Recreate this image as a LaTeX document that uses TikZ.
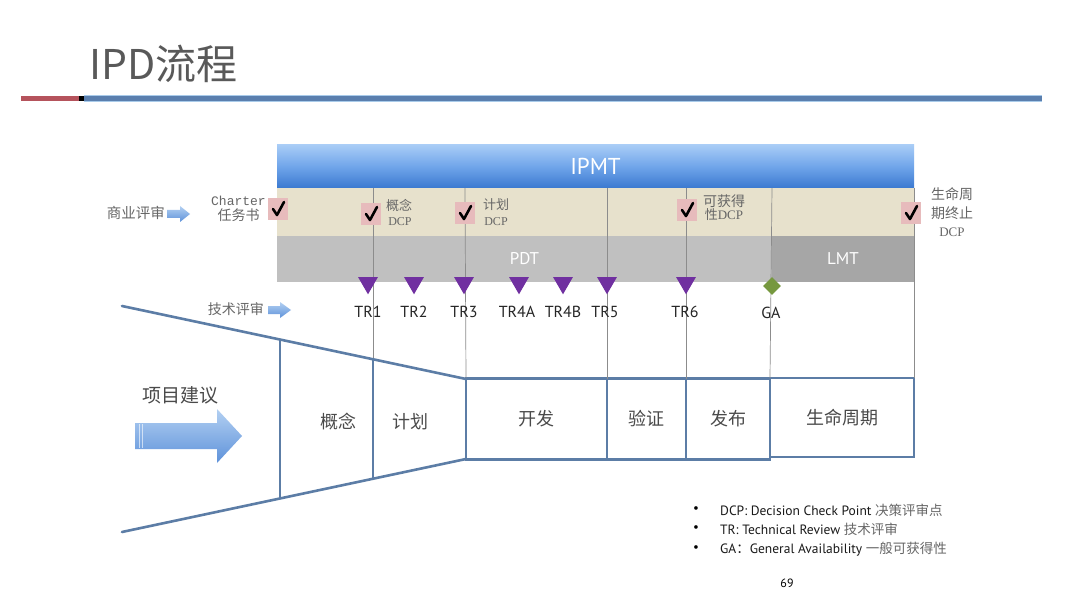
\documentclass[tikz,border=0pt]{standalone}
\usepackage{fontspec}
\setmainfont{Noto Sans CJK SC}
\newfontfamily\cjk{Noto Sans CJK SC}
\newfontfamily\latf{PT Sans}
\newfontfamily\serf{Liberation Serif}
\newfontfamily\monf{Liberation Mono}
\usetikzlibrary{shapes.geometric}
\definecolor{titlegray}{HTML}{595959}
\definecolor{txtgray}{HTML}{4A4A4A}
\definecolor{lblgray}{HTML}{666666}
\definecolor{barred}{HTML}{B5535C}
\definecolor{barblue}{HTML}{5A7FAE}
\definecolor{barlight}{HTML}{A9CBEA}
\definecolor{ipmttop}{HTML}{A8CCF6}
\definecolor{ipmtmid}{HTML}{70A5EA}
\definecolor{ipmtbot}{HTML}{3B79D0}
\definecolor{beige}{HTML}{E7E1CC}
\definecolor{pdtgray}{HTML}{C0C0C0}
\definecolor{lmtgray}{HTML}{A6A6A6}
\definecolor{vline}{HTML}{8C8C8C}
\definecolor{pinkbox}{HTML}{E7BBBC}
\definecolor{trpurple}{HTML}{7030A0}
\definecolor{gagreen}{HTML}{76983F}
\definecolor{funnelblue}{HTML}{5C7DA6}
\definecolor{arrowlight}{HTML}{B3D0F2}
\definecolor{arrowdark}{HTML}{5E92DA}
\tikzset{
  bandbox/.style={inner sep=0pt, outer sep=0pt, draw=none},
  bandtext/.style={text=white, font=\latf\fontsize{17}{19}\selectfont},
  guide/.style={draw=vline, line width=0.7pt},
  funnel/.style={draw=funnelblue, line width=2.6pt, line cap=round, line join=round},
  stagebox/.style={draw=funnelblue, line width=2.6pt, inner sep=0pt, outer sep=0pt,
     font=\cjk\fontsize{18}{20}\selectfont, text=txtgray},
  stagetext/.style={font=\cjk\fontsize{18}{20}\selectfont, text=txtgray},
  smalllbl/.style={font=\cjk\fontsize{13}{15}\selectfont, text=lblgray, inner sep=0pt},
  dcplbl/.style={font=\serf\fontsize{12}{14}\selectfont, text=lblgray, inner sep=0pt},
  trmark/.style={regular polygon, regular polygon sides=3, shape border rotate=180,
     fill=trpurple, inner sep=0pt, minimum size=23pt},
  trlbl/.style={font=\latf\fontsize{16}{18}\selectfont, text=black!85, inner sep=0pt},
  bulletlbl/.style={font=\latf\fontsize{13.5}{16}\selectfont, text=black!90, inner sep=0pt, anchor=west},
  chk/.pic={
    \fill[pinkbox] (-10,-11) rectangle (10,11);
    \draw[line width=2.6pt, line join=round, line cap=round] (-5,0) -- (-1,6) -- (6,-7);
  }
}
\begin{document}
\begin{tikzpicture}[x=1pt,y=-1pt]
\useasboundingbox[fill=white] (0,0) rectangle (1080,607);

% title and header bar
\node[anchor=west, inner sep=0pt, font=\cjk\fontsize{41}{46}\selectfont, text=titlegray] (title) at (89,64) {IPD流程};
\fill[barred] (21,96.5) rectangle (79,101.5);
\fill[black] (79,96.5) rectangle (84,101.5);
\fill[barlight] (84,95.5) rectangle (1042,102.5);
\fill[barblue] (84,96.5) rectangle (1042,101.5);

% bands
\node[bandbox, minimum width=637pt, minimum height=43pt, top color=ipmttop, bottom color=ipmtbot, middle color=ipmtmid,
      text=white, font=\latf\fontsize{23}{26}\selectfont] (ipmt) at (595.5,166.5) {IPMT};
\node[bandbox, fill=beige, minimum width=637pt, minimum height=48pt] (dcpband) at (595.5,212) {};
\node[bandbox, fill=pdtgray, minimum width=495pt, minimum height=46pt, bandtext] (pdt) at (524.5,259) {PDT};
\node[bandbox, fill=lmtgray, minimum width=142pt, minimum height=46pt, bandtext] (lmt) at (843,259) {LMT};

% funnel geometry
\coordinate (ft1) at (122,306);
\coordinate (ft2) at (280,339.5);
\coordinate (ft3) at (373,359.3);
\coordinate (ft4) at (466,379);
\coordinate (fb1) at (122,532);
\coordinate (fb2) at (280,498.5);
\coordinate (fb3) at (373,478.7);
\coordinate (fb4) at (466,459);

% stage boxes
\node[stagebox, minimum width=141pt, minimum height=81pt] (kaifa) at (536.5,419) {开发};
\node[stagebox, minimum width=79pt, minimum height=81pt] (yanzheng) at (646.5,419) {验证};
\node[stagebox, minimum width=84pt, minimum height=81pt] (fabu) at (728,419) {发布};
\node[stagebox, minimum width=144pt, minimum height=79pt] (smzq) at (842,417.5) {生命周期};

% guide lines
\coordinate (g1t) at (373,188);
\coordinate (g2t) at (465,188);
\coordinate (g3t) at (607,188);
\coordinate (g4t) at (686,188);
\coordinate (g5t) at (772,188);
\coordinate (g6t) at (914,188);
\draw[guide] (g1t) -- (ft3);
\draw[guide] (g2t) -- (ft4);
\draw[guide] (g3t) -- (yanzheng.north west);
\draw[guide] (g4t) -- (fabu.north west);
\draw[guide] (g5t) -- (smzq.north west);
\draw[guide] (g6t) -- (smzq.north east);

% funnel
\draw[funnel] (ft1) -- (ft4);
\draw[funnel] (fb1) -- (fb4);
\draw[funnel] (ft2) -- (fb2);
\draw[funnel] (ft3) -- (fb3);
\node[stagetext] (gainian) at (338,422) {概念};
\node[stagetext] (jihua) at (410,422) {计划};

% big arrow
\shade[top color=arrowlight, bottom color=arrowdark] (135,423) -- (217,423) -- (217,409) -- (242,436) -- (217,463) -- (217,449) -- (135,449) -- cycle;
\draw[white, opacity=0.6, line width=0.8pt] (139,424) -- (139,448);
\draw[white, opacity=0.6, line width=0.8pt] (142,424) -- (142,448);
\node[font=\cjk\fontsize{19}{21}\selectfont, text=txtgray] (xmjy) at (180,395) {项目建议};

% checkpoints
\pic at (278,209) {chk};
\pic at (371,214) {chk};
\pic at (465,213) {chk};
\pic at (687,210) {chk};
\pic at (911,213) {chk};

\node[font=\monf\fontsize{13}{15}\selectfont, text=lblgray, inner sep=0pt, anchor=east] (charter) at (266,201) {Charter};
\node[smalllbl, font=\cjk\fontsize{14}{15}\selectfont] (rws) at (238.5,215.5) {任务书};
\node[smalllbl] (gnlbl) at (399,205) {概念};
\node[dcplbl] (gndcp) at (400,222) {DCP};
\node[smalllbl] (jhlbl) at (496,205) {计划};
\node[dcplbl] (jhdcp) at (496,222) {DCP};
\node[smalllbl, font=\cjk\fontsize{14}{15}\selectfont] (khdlbl) at (724,201) {可获得};
\node[smalllbl, font=\cjk\fontsize{13}{15}\selectfont] (khddcp) at (724,215) {性\serf DCP};
\node[smalllbl, font=\cjk\fontsize{14}{15}\selectfont] (smz1) at (952,194) {生命周};
\node[smalllbl, font=\cjk\fontsize{14}{15}\selectfont] (smz2) at (952,213) {期终止};
\node[dcplbl, font=\serf\fontsize{13}{15}\selectfont] (smz3) at (952,232) {DCP};

% business review
\node[smalllbl, font=\cjk\fontsize{14.5}{16}\selectfont, anchor=east] (syps) at (165,213) {商业评审};
\shade[top color=arrowlight, bottom color=arrowdark] (167,210) -- (180,210) -- (180,206) -- (190,214) -- (180,222) -- (180,218) -- (167,218) -- cycle;

% technical review
\node[smalllbl, font=\cjk\fontsize{14}{16}\selectfont, anchor=east] (jsps) at (264,309) {技术评审};
\shade[top color=arrowlight, bottom color=arrowdark] (268,306) -- (280,306) -- (280,302) -- (291,310) -- (280,318) -- (280,314) -- (268,314) -- cycle;

% TR markers
\foreach \nm/\x/\lab/\lx in {tra/368/TR1/368, trb/414/TR2/414, trc/464/TR3/464, trd/519/TR4A/517, tre/563/TR4B/563, trf/607/TR5/605, trg/686/TR6/685}{
  \node[trmark] (\nm) at (\x,282.8) {};
  \node[trlbl] (\nm lab) at (\lx,312) {\lab};
}
\node[diamond, fill=gagreen, inner sep=0pt, minimum width=18pt, minimum height=18pt] (ga) at (772,286) {};
\node[trlbl] (galab) at (771,313) {GA};

% legend
\node[font=\latf\fontsize{13}{15}\selectfont, inner sep=0pt] (b1) at (696,510) {•};
\node[font=\latf\fontsize{13}{15}\selectfont, inner sep=0pt] (b2) at (696,529) {•};
\node[font=\latf\fontsize{13}{15}\selectfont, inner sep=0pt] (b3) at (696,549) {•};
\node[bulletlbl] (l1) at (720,510) {DCP: Decision Check Point {\cjk\color{lblgray} 决策评审点}};
\node[bulletlbl] (l2) at (720,529) {TR: Technical Review {\cjk\color{lblgray} 技术评审}};
\node[bulletlbl] (l3) at (720,549) {GA{\cjk ：}General Availability {\cjk\color{lblgray} 一般可获得性}};
\node[font=\latf\fontsize{12}{14}\selectfont, inner sep=0pt] (pg) at (787,583) {69};
\end{tikzpicture}
\end{document}
